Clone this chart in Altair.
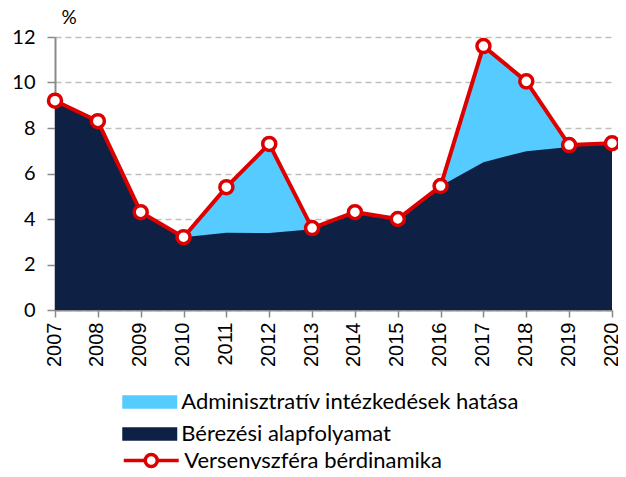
import altair as alt
import pandas as pd

years = list(range(2007, 2021))
wage_line = [9.2, 8.3, 4.3, 3.2, 5.4, 7.3, 3.6, 4.3, 4.0, 5.45, 11.6, 10.05, 7.25, 7.33]
base_proc = [9.2, 8.3, 4.3, 3.2, 3.4, 3.38, 3.55, 4.3, 4.0, 5.45, 6.5, 6.98, 7.17, 7.33]
y_ticks = [0, 2, 4, 6, 8, 10, 12]

s_admin = "Adminisztratív intézkedések hatása"
s_base = "Bérezési alapfolyamat"
s_line = "Versenyszféra bérdinamika"

c_admin = "#55CBFF"
c_base = "#0E2145"
c_line = "#DD0000"

df_area = pd.DataFrame(
    {"year": years * 2,
     "value": wage_line + base_proc,
     "series": [s_admin] * len(years) + [s_base] * len(years)}
)
df_line = pd.DataFrame({"year": years, "value": wage_line, "series": [s_line] * len(years)})

FONT = "Lato"

x_enc = alt.X(
    "year:Q",
    scale=alt.Scale(domain=[2007, 2020], nice=False, zero=False),
    axis=alt.Axis(
        values=years, format="d", labelAngle=270, grid=False, title=None,
        labelFont="Liberation Sans", labelFontSize=20, labelColor="#000000",
        domainColor="#898989", domainWidth=2, tickColor="#898989", tickWidth=1.5,
        tickSize=7, labelPadding=5, labelOffset=-1,
    ),
)
y_enc = alt.Y(
    "value:Q",
    scale=alt.Scale(domain=[0, 12], nice=False),
    axis=alt.Axis(
        values=y_ticks, grid=True, gridDash=[6, 4], gridColor="#BFBFBF", gridWidth=1.5,
        title="%", titleAngle=0, titleX=6, titleY=-10, titleAlign="left", titleBaseline="bottom",
        titleFont=FONT, titleFontSize=19, titleFontWeight="normal", titleColor="#000000",
        labelFont=FONT, labelFontSize=20, labelColor="#000000",
        domainColor="#898989", domainWidth=2, tickColor="#898989", tickWidth=1.5,
        tickSize=8, labelPadding=12,
    ),
)

fill_scale = alt.Scale(domain=[s_admin, s_base], range=[c_admin, c_base])
fill_legend = alt.Legend(
    orient="none", legendX=67, legendY=351, title=None,
    symbolType="M-2,-0.5H2V0.5H-2Z", symbolSize=756, symbolStrokeWidth=0,
    symbolOffset=13.75,
    labelFont=FONT, labelFontSize=22, labelColor="#000000", labelOffset=17.5,
    rowPadding=7, labelLimit=600,
)

area_admin = alt.Chart(df_area).transform_filter(
    alt.datum.series == s_admin
).mark_area(opacity=1).encode(
    x=x_enc, y=y_enc,
    fill=alt.Fill("series:N", scale=fill_scale, legend=fill_legend),
)
area_base = alt.Chart(df_area).transform_filter(
    alt.datum.series == s_base
).mark_area(opacity=1).encode(
    x=x_enc, y=y_enc,
    fill=alt.Fill("series:N", scale=fill_scale, legend=fill_legend),
)

line_legend = alt.Legend(
    orient="none", legendX=67, legendY=408, title=None,
    symbolType="M-2,0H-0.44M0.44,0H2M0.44,0A0.44,0.44,0,1,1,-0.44,0A0.44,0.44,0,1,1,0.44,0",
    symbolSize=756, symbolStrokeWidth=3.5, symbolFillColor="white", symbolStrokeColor=c_line,
    symbolOffset=13.75,
    labelFont=FONT, labelFontSize=22, labelColor="#000000", labelOffset=17.5, labelLimit=600,
)

line = alt.Chart(df_line).mark_line(strokeWidth=4).encode(
    x=x_enc, y=y_enc,
    stroke=alt.Stroke("series:N", scale=alt.Scale(domain=[s_line], range=[c_line]), legend=line_legend),
)
points = alt.Chart(df_line).mark_point(
    shape="circle", size=170, filled=True, fill="white", stroke=c_line, strokeWidth=3.5, opacity=1
).encode(x=x_enc, y=y_enc)

chart = alt.layer(area_admin, area_base, line, points).properties(
    width=557, height=273,
    autosize=alt.AutoSizeParams(type="none"),
    padding={"left": 47, "top": 29, "right": 6, "bottom": 159},
).configure_view(stroke=None)

chart.save("out.html", embed_options={"renderer": "svg", "actions": False})
